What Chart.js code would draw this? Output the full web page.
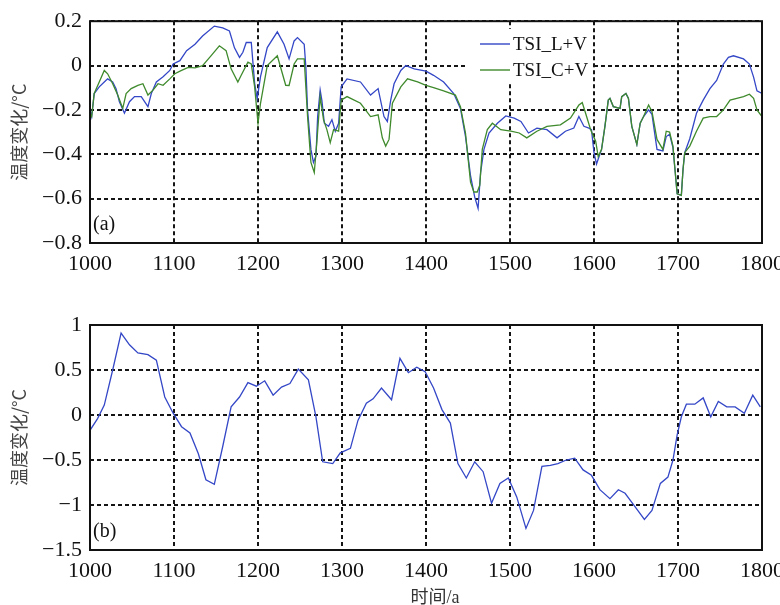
<!DOCTYPE html>
<html>
<head>
<meta charset="utf-8">
<script src="https://cdn.jsdelivr.net/npm/chart.js@4/dist/chart.umd.min.js"></script>
<style>
  html, body { margin: 0; padding: 0; background: #fff; overflow: hidden; width: 780px; height: 605px; }
  canvas { position: absolute; left: 0; }
</style>
</head>
<body>
<canvas id="chartA" width="800" height="290" style="top:0"></canvas>
<canvas id="chartB" width="800" height="320" style="top:290px"></canvas>
<script>
// panel (a): two TSI reconstructions
const seriesNames = ['TSI_L+V', 'TSI_C+V'];

const yearsL = [1000, 1002, 1005, 1011, 1017, 1021, 1027, 1031, 1035, 1041, 1047, 1053, 1061, 1069, 1073, 1079,
  1087, 1095, 1099, 1107, 1115, 1125, 1134, 1148, 1158, 1166, 1172, 1178, 1182, 1186, 1192, 1196, 1199,
  1203, 1211, 1223, 1231, 1237, 1243, 1247, 1255, 1257, 1259, 1263, 1266, 1269, 1271, 1274, 1276, 1279,
  1284, 1288, 1292, 1296, 1299, 1306, 1322, 1334, 1343, 1350, 1354, 1358, 1362, 1370, 1376, 1386, 1400,
  1409, 1421, 1433, 1441, 1447, 1453, 1458, 1462, 1465, 1469, 1475, 1485, 1495, 1505, 1513, 1522, 1532,
  1544, 1556, 1566, 1576, 1582, 1588, 1594, 1597, 1600, 1603, 1609, 1613, 1617, 1619, 1623, 1631, 1633,
  1638, 1641, 1645, 1651, 1655, 1659, 1665, 1669, 1675, 1682, 1686, 1690, 1694, 1696, 1699, 1704, 1706,
  1708, 1714, 1722, 1730, 1738, 1746, 1754, 1760, 1766, 1778, 1785, 1790, 1794, 1800];
const tsiL = [-0.2, -0.23, -0.126, -0.096, -0.074, -0.06, -0.074, -0.104, -0.163, -0.215, -0.163, -0.14, -0.14, -0.185, -0.126, -0.074,
  -0.05, -0.022, 0.007, 0.022, 0.067, 0.096, 0.133, 0.178, 0.17, 0.156, 0.08, 0.037, 0.06, 0.104, 0.104, -0.08, -0.15,
  -0.05, 0.081, 0.152, 0.096, 0.03, 0.111, 0.126, 0.096, -0.008, -0.2, -0.378, -0.437, -0.408, -0.23, -0.11, -0.156, -0.26,
  -0.274, -0.244, -0.296, -0.26, -0.096, -0.06, -0.074, -0.133, -0.104, -0.23, -0.252, -0.156, -0.082, -0.022, 0.0, -0.015, -0.025,
  -0.044, -0.074, -0.126, -0.193, -0.319, -0.496, -0.593, -0.644, -0.482, -0.378, -0.304, -0.26, -0.227, -0.237, -0.252, -0.304, -0.282,
  -0.289, -0.326, -0.296, -0.282, -0.23, -0.274, -0.282, -0.289, -0.393, -0.444, -0.378, -0.274, -0.156, -0.148, -0.185, -0.193, -0.14,
  -0.126, -0.148, -0.274, -0.356, -0.26, -0.23, -0.2, -0.22, -0.378, -0.385, -0.32, -0.31, -0.37, -0.452, -0.578, -0.585, -0.467,
  -0.393, -0.33, -0.215, -0.156, -0.104, -0.067, 0.007, 0.037, 0.044, 0.03, 0.007, -0.052, -0.114, -0.126];

const yearsC = [1000, 1002, 1005, 1011, 1017, 1021, 1027, 1033, 1039, 1043, 1049, 1057, 1063, 1069, 1075, 1081,
  1087, 1095, 1101, 1109, 1117, 1125, 1134, 1144, 1154, 1162, 1168, 1176, 1180, 1188, 1192, 1196, 1200,
  1203, 1211, 1223, 1233, 1237, 1243, 1247, 1255, 1259, 1263, 1267, 1270, 1274, 1278, 1282, 1286, 1290,
  1296, 1299, 1306, 1322, 1334, 1343, 1348, 1352, 1356, 1360, 1370, 1378, 1390, 1400, 1409, 1421, 1435,
  1441, 1447, 1453, 1457, 1461, 1464, 1467, 1473, 1479, 1489, 1501, 1511, 1520, 1532, 1544, 1560, 1572,
  1582, 1586, 1590, 1596, 1602, 1605, 1609, 1613, 1617, 1619, 1623, 1631, 1633, 1638, 1641, 1645, 1651,
  1655, 1659, 1665, 1669, 1675, 1682, 1686, 1690, 1694, 1696, 1699, 1704, 1706, 1708, 1714, 1722, 1730,
  1738, 1746, 1754, 1762, 1770, 1778, 1785, 1790, 1794, 1800];
const tsiC = [-0.215, -0.23, -0.126, -0.074, -0.022, -0.037, -0.082, -0.133, -0.193, -0.126, -0.104, -0.089, -0.082, -0.133, -0.111, -0.082,
  -0.089, -0.06, -0.037, -0.022, -0.008, -0.01, 0.0, 0.044, 0.089, 0.067, -0.015, -0.074, -0.044, 0.015, 0.007, -0.096, -0.26,
  -0.17, 0.0, 0.044, -0.089, -0.09, 0.007, 0.03, 0.03, -0.23, -0.437, -0.482, -0.348, -0.14, -0.244, -0.289, -0.348, -0.289,
  -0.296, -0.156, -0.14, -0.17, -0.23, -0.222, -0.326, -0.363, -0.333, -0.17, -0.096, -0.06, -0.074, -0.089, -0.1, -0.114, -0.133,
  -0.185, -0.304, -0.526, -0.57, -0.57, -0.54, -0.378, -0.289, -0.26, -0.289, -0.296, -0.304, -0.326, -0.296, -0.274, -0.267, -0.237,
  -0.178, -0.167, -0.215, -0.289, -0.341, -0.41, -0.378, -0.274, -0.156, -0.148, -0.185, -0.193, -0.14, -0.126, -0.148, -0.274, -0.356,
  -0.26, -0.23, -0.178, -0.207, -0.333, -0.378, -0.296, -0.3, -0.363, -0.452, -0.578, -0.585, -0.467, -0.393, -0.363, -0.296, -0.237,
  -0.23, -0.23, -0.2, -0.156, -0.148, -0.14, -0.129, -0.148, -0.2, -0.23];

// panel (b)
const yearsB = [1000, 1009, 1017, 1027, 1037, 1047, 1057, 1069, 1079, 1089, 1099, 1109, 1119, 1129, 1138, 1148,
  1158, 1168, 1178, 1188, 1198, 1208, 1218, 1228, 1238, 1248, 1260, 1269, 1277, 1289, 1298, 1310, 1319,
  1329, 1337, 1347, 1359, 1369, 1379, 1389, 1399, 1409, 1419, 1429, 1438, 1448, 1458, 1468, 1478, 1488,
  1498, 1508, 1519, 1528, 1538, 1548, 1557, 1567, 1577, 1587, 1597, 1607, 1619, 1629, 1637, 1649, 1660,
  1669, 1679, 1688, 1694, 1699, 1704, 1710, 1720, 1730, 1739, 1748, 1758, 1768, 1779, 1789, 1798];
const tempB = [-0.17, -0.04, 0.11, 0.5, 0.91, 0.78, 0.69, 0.67, 0.61, 0.2, 0.02, -0.13, -0.2, -0.43, -0.72, -0.77,
  -0.35, 0.09, 0.2, 0.36, 0.32, 0.38, 0.22, 0.31, 0.35, 0.51, 0.39, -0.02, -0.52, -0.54, -0.42, -0.37, -0.06,
  0.13, 0.18, 0.3, 0.17, 0.63, 0.47, 0.53, 0.48, 0.3, 0.06, -0.09, -0.54, -0.7, -0.52, -0.63, -0.98, -0.76,
  -0.7, -0.91, -1.26, -1.06, -0.57, -0.56, -0.54, -0.5, -0.48, -0.61, -0.67, -0.83, -0.93, -0.83, -0.87, -1.02, -1.16,
  -1.06, -0.76, -0.69, -0.5, -0.22, -0.02, 0.12, 0.12, 0.19, -0.02, 0.15, 0.09, 0.09, 0.02, 0.22, 0.09];

const xTicks = [1000, 1100, 1200, 1300, 1400, 1500, 1600, 1700, 1800];
const yTicksA = [0.2, 0, -0.2, -0.4, -0.6, -0.8];
const yTicksB = [1, 0.5, 0, -0.5, -1, -1.5];

const yTitle = '温度变化/°C';
const xTitle = '时间/a';

const BLUE = '#3447c6';
const GREEN = '#3f8a2c';
const SERIF = "'Liberation Serif', 'Times New Roman', serif";

function pts(xs, ys) {
  return xs.map((x, i) => ({ x: x, y: ys[i] }));
}

function fmt(v) {
  return String(v).replace('-', '\u2212');
}

// frame, panel letter, legend box and x title
const decor = {
  id: 'decor',
  afterDatasetsDraw(chart, args, opts) {
    const ctx = chart.ctx;
    const a = chart.chartArea;
    ctx.save();
    ctx.strokeStyle = '#111';
    ctx.lineWidth = 2;
    ctx.setLineDash([]);
    ctx.strokeRect(a.left, a.top, a.right - a.left, a.bottom - a.top);

    ctx.fillStyle = '#111';
    ctx.font = '20px ' + SERIF;
    ctx.textAlign = 'left';
    ctx.textBaseline = 'middle';
    ctx.fillText(opts.panel, a.left + 3, a.bottom - 18);

    if (opts.legend) {
      ctx.fillStyle = '#fff';
      ctx.fillRect(467, 29, 126, 54);
      const rows = [[seriesNames[0], BLUE, 44], [seriesNames[1], GREEN, 70]];
      ctx.font = '19px ' + SERIF;
      rows.forEach(r => {
        ctx.strokeStyle = r[1];
        ctx.lineWidth = 1.4;
        ctx.beginPath();
        ctx.moveTo(480, r[2]);
        ctx.lineTo(510, r[2]);
        ctx.stroke();
        ctx.fillStyle = '#111';
        ctx.fillText(r[0], 513, r[2] + 1);
      });
    }
    if (opts.xTitle) {
      ctx.fillStyle = '#333';
      ctx.font = "18px 'Liberation Serif', 'Noto Sans CJK SC', serif";
      ctx.textAlign = 'center';
      ctx.fillText(opts.xTitle, 435, 308);
    }
    ctx.restore();
  }
};

function makeOptions(yMin, yMax, yTicks, plotTop, xAxisH, decorOpts) {
  return {
    responsive: false,
    animation: false,
    layout: { padding: { top: plotTop, right: 38, bottom: 0, left: 0 } },
    elements: { point: { radius: 0 }, line: { tension: 0, borderWidth: 1.3 } },
    plugins: { legend: { display: false }, tooltip: { enabled: false }, decor: decorOpts },
    scales: {
      x: {
        type: 'linear', min: 1000, max: 1800,
        afterBuildTicks(scale) { scale.ticks = xTicks.map(v => ({ value: v })); },
        afterFit(scale) { scale.height = xAxisH; },
        ticks: { autoSkip: false, maxRotation: 0, padding: 8, color: '#111',
          font: { family: SERIF, size: 22 }, callback: v => String(v) },
        grid: { color: '#151515', lineWidth: 2, drawTicks: false },
        border: { display: false, dash: [4, 3] }
      },
      y: {
        min: yMin, max: yMax,
        afterBuildTicks(scale) { scale.ticks = yTicks.map(v => ({ value: v })); },
        afterFit(scale) { scale.width = 90; },
        ticks: { padding: 8, color: '#111', font: { family: SERIF, size: 22 }, callback: v => fmt(v) },
        grid: { color: '#151515', lineWidth: 2, drawTicks: false },
        border: { display: false, dash: [4, 3] },
        title: { display: true, text: yTitle, color: '#444', padding: { top: 8, bottom: 0 },
          font: { family: "'Noto Sans CJK SC', 'Noto Sans', sans-serif", size: 18 } }
      }
    }
  };
}

new Chart(document.getElementById('chartA'), {
  type: 'line',
  data: {
    datasets: [
      { label: seriesNames[0], data: pts(yearsL, tsiL), borderColor: BLUE, order: 1 },
      { label: seriesNames[1], data: pts(yearsC, tsiC), borderColor: GREEN, order: 0 }
    ]
  },
  options: makeOptions(-0.8, 0.2, yTicksA, 18, 47, { panel: '(a)', legend: true }),
  plugins: [decor]
});

new Chart(document.getElementById('chartB'), {
  type: 'line',
  data: {
    datasets: [
      { label: 'b', data: pts(yearsB, tempB), borderColor: BLUE }
    ]
  },
  options: makeOptions(-1.5, 1, yTicksB, 35, 60, { panel: '(b)', legend: false, xTitle: xTitle }),
  plugins: [decor]
});
</script>
</body>
</html>
